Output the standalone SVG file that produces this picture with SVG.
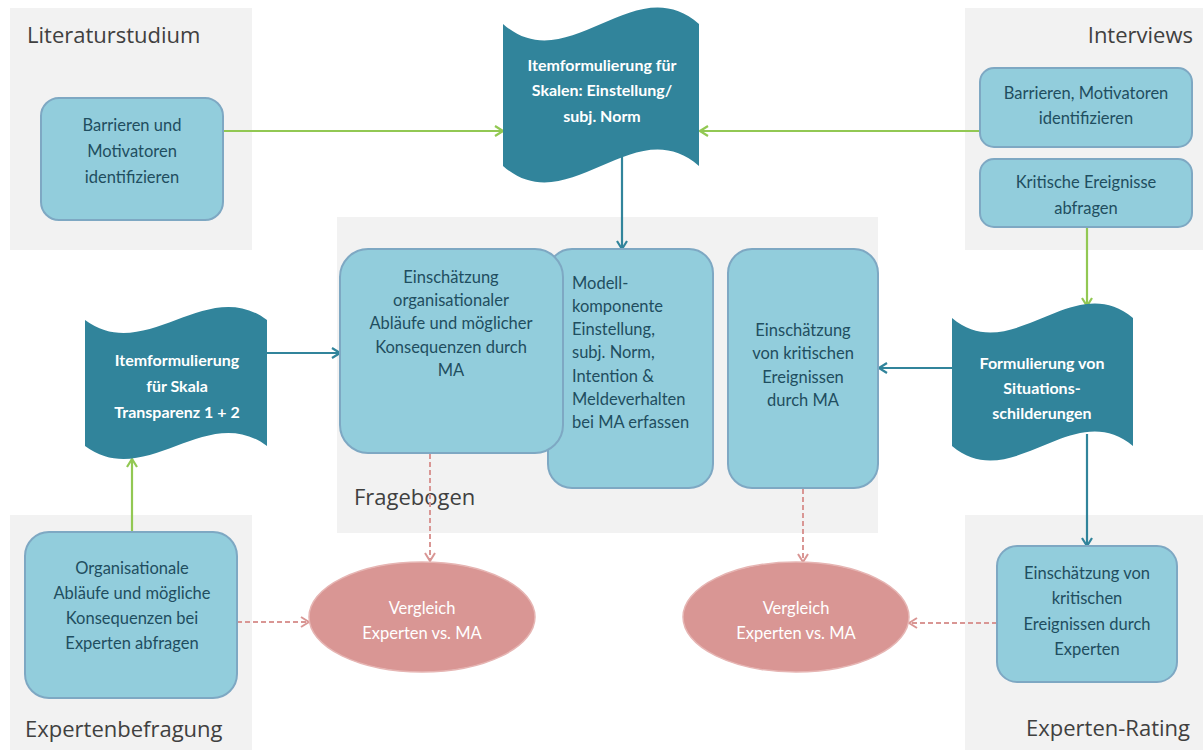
<svg xmlns="http://www.w3.org/2000/svg" width="1203" height="755" viewBox="0 0 1203 755">
<style>
.panel{fill:#f2f2f2}
.title{font-family:"Open Sans","Noto Sans",sans-serif;font-size:22px;fill:#404040}
.box{fill:#92cddc;stroke:#7ea8c3;stroke-width:2}
.bt{font-family:Lato,"Open Sans",sans-serif;font-size:16.5px;fill:#1f4e60;text-anchor:middle}
.bl{font-family:Lato,"Open Sans",sans-serif;font-size:16.5px;fill:#1f4e60}
.doc{fill:#31849b}
.dt{font-family:Lato,"Open Sans",sans-serif;font-size:16px;font-weight:700;fill:#ffffff;text-anchor:middle}
.ell{fill:#d99694;stroke:#e6b5b3;stroke-width:1.5}
.et{font-family:Lato,"Open Sans",sans-serif;font-size:16.5px;fill:#ffffff;text-anchor:middle}
.g{stroke:#92c853;stroke-width:2.2;fill:none;marker-end:url(#ag)}
.t{stroke:#31849b;stroke-width:2.2;fill:none;marker-end:url(#at)}
.p{stroke:#d99694;stroke-width:2;stroke-dasharray:5,3;fill:none;marker-end:url(#ap)}
</style>
<defs>
<marker id="ag" viewBox="0 0 10 12" refX="9" refY="6" markerWidth="10" markerHeight="12" markerUnits="userSpaceOnUse" orient="auto"><path d="M1,1 L9,6 L1,11" fill="none" stroke="#92c853" stroke-width="2.2"/></marker>
<marker id="at" viewBox="0 0 10 12" refX="9" refY="6" markerWidth="10" markerHeight="12" markerUnits="userSpaceOnUse" orient="auto"><path d="M1,1 L9,6 L1,11" fill="none" stroke="#31849b" stroke-width="2.2"/></marker>
<marker id="ap" viewBox="0 0 10 12" refX="9" refY="6" markerWidth="10" markerHeight="12" markerUnits="userSpaceOnUse" orient="auto"><path d="M1,1 L9,6 L1,11" fill="none" stroke="#d99694" stroke-width="2"/></marker>
</defs>
<rect width="1203" height="755" fill="#ffffff"/>

<g id="panel-literaturstudium">
<rect class="panel" x="10" y="8" width="242" height="242"/>
<text class="title" x="27" y="43">Literaturstudium</text>
</g>
<g id="panel-interviews">
<rect class="panel" x="965" y="8" width="238" height="242"/>
<text class="title" x="1193" y="43" text-anchor="end">Interviews</text>
</g>
<g id="panel-fragebogen">
<rect class="panel" x="337" y="217" width="541" height="316"/>
<text class="title" x="354" y="505">Fragebogen</text>
</g>
<g id="panel-expertenbefragung">
<rect class="panel" x="10" y="515" width="242" height="235"/>
<text class="title" x="25" y="737">Expertenbefragung</text>
</g>
<g id="panel-expertenrating">
<rect class="panel" x="965" y="515" width="238" height="235"/>
<text class="title" x="1190" y="736" text-anchor="end">Experten-Rating</text>
</g>

<g id="connectors">
<line class="g" x1="223" y1="131" x2="503" y2="131"/>
<line class="g" x1="980" y1="131" x2="700" y2="131"/>
<line class="t" x1="622" y1="157" x2="622" y2="249"/>
<line class="g" x1="1087" y1="227" x2="1087" y2="306"/>
<line class="t" x1="952" y1="368" x2="879" y2="368"/>
<line class="t" x1="1087" y1="434" x2="1087" y2="546"/>
<line class="t" x1="267" y1="353" x2="340" y2="353"/>
<line class="g" x1="132" y1="532" x2="132" y2="459"/>
<line class="p" x1="237" y1="622" x2="309" y2="622"/>
<line class="p" x1="430" y1="454" x2="430" y2="561"/>
<line class="p" x1="803" y1="489" x2="803" y2="562"/>
<line class="p" x1="997" y1="623" x2="909" y2="623"/>
</g>

<g id="node-lit-barrieren">
<rect class="box" x="41" y="98" width="182" height="122" rx="18"/>
<text class="bt" x="132" y="131">Barrieren und</text>
<text class="bt" x="132" y="157">Motivatoren</text>
<text class="bt" x="132" y="183">identifizieren</text>
</g>

<g id="node-int-barrieren">
<rect class="box" x="980" y="68" width="212" height="79" rx="14"/>
<text class="bt" x="1086" y="99">Barrieren, Motivatoren</text>
<text class="bt" x="1086" y="124">identifizieren</text>
</g>

<g id="node-int-kritisch">
<rect class="box" x="980" y="159" width="212" height="68" rx="14"/>
<text class="bt" x="1086" y="188">Kritische Ereignisse</text>
<text class="bt" x="1086" y="214">abfragen</text>
</g>

<g id="node-doc-skalen">
<path class="doc" d="M503,24 C568,81 634,-33 699,24 L699,166 C634,109 568,223 503,166 Z"/>
<text class="dt" x="602" y="71">Itemformulierung für</text>
<text class="dt" x="602" y="96">Skalen: Einstellung/</text>
<text class="dt" x="602" y="122">subj. Norm</text>
</g>

<g id="node-doc-transparenz">
<path class="doc" d="M85,320 C146,365 206,275 267,320 L267,446 C206,401 146,491 85,446 Z"/>
<text class="dt" x="177" y="366">Itemformulierung</text>
<text class="dt" x="177" y="392">für Skala</text>
<text class="dt" x="177" y="418">Transparenz 1 + 2</text>
</g>

<g id="node-doc-situationen">
<path class="doc" d="M952,318 C1012,368 1073,268 1133,318 L1133,446 C1073,396 1012,496 952,446 Z"/>
<text class="dt" x="1042" y="369">Formulierung von</text>
<text class="dt" x="1042" y="394">Situations-</text>
<text class="dt" x="1042" y="419">schilderungen</text>
</g>

<g id="node-modell">
<rect class="box" x="548" y="249" width="165" height="239" rx="24"/>
<text class="bl" x="572" y="289">Modell-</text>
<text class="bl" x="572" y="312">komponente</text>
<text class="bl" x="572" y="335">Einstellung,</text>
<text class="bl" x="572" y="358">subj. Norm,</text>
<text class="bl" x="572" y="382">Intention &amp;</text>
<text class="bl" x="572" y="405">Meldeverhalten</text>
<text class="bl" x="572" y="428">bei MA erfassen</text>
</g>

<g id="node-einschaetzung-org">
<rect class="box" x="340" y="249" width="223" height="204" rx="28"/>
<text class="bt" x="451" y="283">Einschätzung</text>
<text class="bt" x="451" y="306">organisationaler</text>
<text class="bt" x="451" y="329">Abläufe und möglicher</text>
<text class="bt" x="451" y="353">Konsequenzen durch</text>
<text class="bt" x="451" y="376">MA</text>
</g>

<g id="node-einschaetzung-krit">
<rect class="box" x="728" y="249" width="150" height="239" rx="24"/>
<text class="bt" x="803" y="336">Einschätzung</text>
<text class="bt" x="803" y="359">von kritischen</text>
<text class="bt" x="803" y="383">Ereignissen</text>
<text class="bt" x="803" y="406">durch MA</text>
</g>

<g id="node-org-experten">
<rect class="box" x="25" y="532" width="212" height="166" rx="24"/>
<text class="bt" x="132" y="574">Organisationale</text>
<text class="bt" x="132" y="599">Abläufe und mögliche</text>
<text class="bt" x="132" y="624">Konsequenzen bei</text>
<text class="bt" x="132" y="649">Experten abfragen</text>
</g>

<g id="node-krit-experten">
<rect class="box" x="997" y="546" width="180" height="136" rx="20"/>
<text class="bt" x="1087" y="579">Einschätzung von</text>
<text class="bt" x="1087" y="604">kritischen</text>
<text class="bt" x="1087" y="630">Ereignissen durch</text>
<text class="bt" x="1087" y="655">Experten</text>
</g>

<g id="node-vergleich-1">
<ellipse class="ell" cx="422" cy="617" rx="113" ry="55"/>
<text class="et" x="422" y="614">Vergleich</text>
<text class="et" x="422" y="639">Experten vs. MA</text>
</g>

<g id="node-vergleich-2">
<ellipse class="ell" cx="796" cy="617" rx="113" ry="55"/>
<text class="et" x="796" y="614">Vergleich</text>
<text class="et" x="796" y="639">Experten vs. MA</text>
</g>
</svg>
